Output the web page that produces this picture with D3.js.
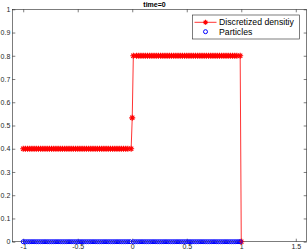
<!DOCTYPE html>
<html>
<head>
<meta charset="utf-8">
<script src="https://cdn.jsdelivr.net/npm/d3@7"></script>
<style>
  body { margin: 0; background: #fff; }
  svg { display: block; font-family: "Liberation Sans", Arial, sans-serif; }
</style>
</head>
<body>
<div class="container"></div>
<script>

// discretized density at time=0
const densityX = [
  -1, -0.98, -0.96, -0.94, -0.92, -0.9, -0.88, -0.86, -0.84, -0.82,
  -0.8, -0.78, -0.76, -0.74, -0.72, -0.7, -0.68, -0.66, -0.64, -0.62,
  -0.6, -0.58, -0.56, -0.54, -0.52, -0.5, -0.48, -0.46, -0.44, -0.42,
  -0.4, -0.38, -0.36, -0.34, -0.32, -0.3, -0.28, -0.26, -0.24, -0.22,
  -0.2, -0.18, -0.16, -0.14, -0.12, -0.1, -0.08, -0.06, -0.04, -0.01,
  0,
  0.01, 0.04, 0.06, 0.08, 0.1, 0.12, 0.14, 0.16, 0.18, 0.2,
  0.22, 0.24, 0.26, 0.28, 0.3, 0.32, 0.34, 0.36, 0.38, 0.4,
  0.42, 0.44, 0.46, 0.48, 0.5, 0.52, 0.54, 0.56, 0.58, 0.6,
  0.62, 0.64, 0.66, 0.68, 0.7, 0.72, 0.74, 0.76, 0.78, 0.8,
  0.82, 0.84, 0.86, 0.88, 0.9, 0.92, 0.94, 0.96, 0.99,
  1
];
const densityY = [
  0.4, 0.4, 0.4, 0.4, 0.4, 0.4, 0.4, 0.4, 0.4, 0.4,
  0.4, 0.4, 0.4, 0.4, 0.4, 0.4, 0.4, 0.4, 0.4, 0.4,
  0.4, 0.4, 0.4, 0.4, 0.4, 0.4, 0.4, 0.4, 0.4, 0.4,
  0.4, 0.4, 0.4, 0.4, 0.4, 0.4, 0.4, 0.4, 0.4, 0.4,
  0.4, 0.4, 0.4, 0.4, 0.4, 0.4, 0.4, 0.4, 0.4, 0.4,
  0.533,
  0.8, 0.8, 0.8, 0.8, 0.8, 0.8, 0.8, 0.8, 0.8, 0.8,
  0.8, 0.8, 0.8, 0.8, 0.8, 0.8, 0.8, 0.8, 0.8, 0.8,
  0.8, 0.8, 0.8, 0.8, 0.8, 0.8, 0.8, 0.8, 0.8, 0.8,
  0.8, 0.8, 0.8, 0.8, 0.8, 0.8, 0.8, 0.8, 0.8, 0.8,
  0.8, 0.8, 0.8, 0.8, 0.8, 0.8, 0.8, 0.8, 0.8,
  0
];

// particle positions (all at y=0)
const particleX = [
  -1, -0.98, -0.96, -0.94, -0.92, -0.9, -0.88, -0.86, -0.84, -0.82,
  -0.8, -0.78, -0.76, -0.74, -0.72, -0.7, -0.68, -0.66, -0.64, -0.62,
  -0.6, -0.58, -0.56, -0.54, -0.52, -0.5, -0.48, -0.46, -0.44, -0.42,
  -0.4, -0.38, -0.36, -0.34, -0.32, -0.3, -0.28, -0.26, -0.24, -0.22,
  -0.2, -0.18, -0.16, -0.14, -0.12, -0.1, -0.08, -0.06, -0.04, -0.02,
  0.01, 0.03, 0.05, 0.07, 0.09, 0.11, 0.13, 0.15, 0.17, 0.19,
  0.21, 0.23, 0.25, 0.27, 0.29, 0.31, 0.33, 0.35, 0.37, 0.39,
  0.41, 0.43, 0.45, 0.47, 0.49, 0.51, 0.53, 0.55, 0.57, 0.59,
  0.61, 0.63, 0.65, 0.67, 0.69, 0.71, 0.73, 0.75, 0.77, 0.79,
  0.81, 0.83, 0.85, 0.87, 0.89, 0.91, 0.93, 0.95, 0.97, 0.99
];

const xTicks = [-1, -0.5, 0, 0.5, 1, 1.5];
const yTicks = [0, 0.1, 0.2, 0.3, 0.4, 0.5, 0.6, 0.7, 0.8, 0.9, 1];
const titleText = 'time=0';
const legendLabels = ['Discretized densitiy', 'Particles'];

const renderChart = () => {

  const width = 307;
  const height = 252;
  const left = 12.3, right = 306.7, top = 9.3, bottom = 241.7;
  const axisColor = '#262626';

  const xScale = d3.scaleLinear()
                   .domain([-1.1, 1.6])
                   .range([left, right]);

  const yScale = d3.scaleLinear()
                   .domain([0, 1])
                   .range([bottom, top]);

  const svg = d3.select('.container')
    .append('svg')
    .attr('width', width)
    .attr('height', height);

  const fmt = d => String(d);

  // axes, ticks pointing inward
  const styleAxis = g => {
    g.select('.domain').remove();
    g.selectAll('.tick line').attr('stroke', axisColor).attr('stroke-width', 0.6);
    g.selectAll('.tick text').attr('fill', axisColor).attr('font-size', 7);
  };

  svg.append('g')
    .attr('transform', `translate(0,${bottom})`)
    .call(d3.axisBottom(xScale).tickValues(xTicks).tickFormat(fmt).tickSize(-3).tickPadding(2))
    .call(styleAxis);

  svg.append('g')
    .attr('transform', `translate(0,${top})`)
    .call(d3.axisTop(xScale).tickValues(xTicks).tickFormat('').tickSize(-3))
    .call(styleAxis);

  svg.append('g')
    .attr('transform', `translate(${left},0)`)
    .call(d3.axisLeft(yScale).tickValues(yTicks).tickFormat(fmt).tickSize(-3).tickPadding(2))
    .call(styleAxis);

  svg.append('g')
    .attr('transform', `translate(${right},0)`)
    .call(d3.axisRight(yScale).tickValues(yTicks).tickFormat('').tickSize(-3))
    .call(styleAxis);

  svg.append('rect')
    .attr('x', left)
    .attr('y', top)
    .attr('width', right - left)
    .attr('height', bottom - top)
    .attr('fill', 'none')
    .attr('stroke', axisColor)
    .attr('stroke-width', 0.6);

  svg.append('text')
    .attr('x', 154.5)
    .attr('y', 7)
    .attr('text-anchor', 'middle')
    .attr('font-size', 7)
    .attr('font-weight', 'bold')
    .attr('fill', '#000')
    .text(titleText);

  const density = densityX.map((x, i) => [x, densityY[i]]);

  const star = (g, s) => {
    g.append('path')
      .attr('d', `M${-s},0H${s}M0,${-s}V${s}M${-s * 0.7},${-s * 0.7}L${s * 0.7},${s * 0.7}M${-s * 0.7},${s * 0.7}L${s * 0.7},${-s * 0.7}`)
      .attr('stroke', '#ff0000')
      .attr('stroke-width', 1.1)
      .attr('fill', 'none');
  };

  svg.append('path')
    .datum(density)
    .attr('d', d3.line().x(d => xScale(d[0])).y(d => yScale(d[1])))
    .attr('fill', 'none')
    .attr('stroke', '#ff0000')
    .attr('stroke-width', 0.8);

  svg.selectAll('g.star')
    .data(density)
    .enter()
    .append('g')
    .attr('class', 'star')
    .attr('transform', d => `translate(${xScale(d[0])},${yScale(d[1])})`)
    .each(function () { star(d3.select(this), 3); });

  svg.selectAll('circle.particle')
    .data(particleX)
    .enter()
    .append('circle')
    .attr('class', 'particle')
    .attr('cx', d => xScale(d))
    .attr('cy', yScale(0))
    .attr('r', 2)
    .attr('fill', 'none')
    .attr('stroke', '#0000ff')
    .attr('stroke-width', 1);

  // legend
  const legend = svg.append('g');
  legend.append('rect')
    .attr('x', 192.3)
    .attr('y', 15)
    .attr('width', 107)
    .attr('height', 24)
    .attr('fill', '#fff')
    .attr('stroke', axisColor)
    .attr('stroke-width', 0.6);

  legend.append('line')
    .attr('x1', 194.5).attr('x2', 216.5)
    .attr('y1', 22.3).attr('y2', 22.3)
    .attr('stroke', '#ff0000')
    .attr('stroke-width', 0.8);
  star(legend.append('g').attr('transform', 'translate(205.5,22.3)'), 2.5);

  legend.append('circle')
    .attr('cx', 205.5)
    .attr('cy', 31.7)
    .attr('r', 2)
    .attr('fill', 'none')
    .attr('stroke', '#0000ff')
    .attr('stroke-width', 1);

  legend.selectAll('text.lab')
    .data(legendLabels)
    .enter()
    .append('text')
    .attr('class', 'lab')
    .attr('x', 219)
    .attr('y', (d, i) => 22.3 + i * 9.4)
    .attr('dy', '0.35em')
    .attr('font-size', 8.7)
    .attr('fill', '#000')
    .text(d => d);
};

renderChart();
</script>
</body>
</html>
